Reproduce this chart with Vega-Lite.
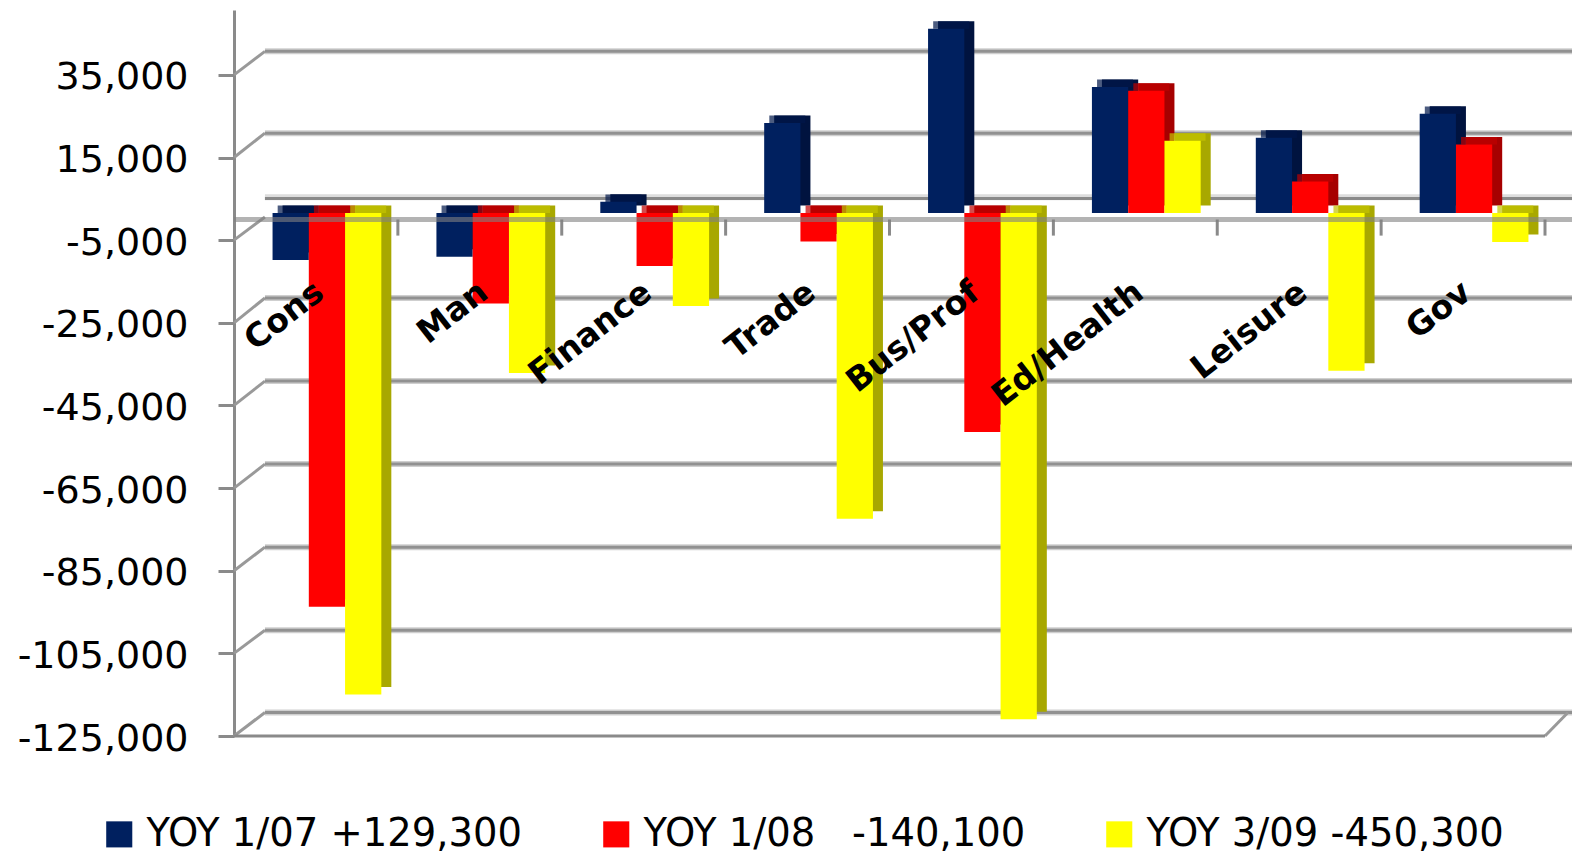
{"$schema":"https://vega.github.io/schema/vega-lite/v6.json","width":1311,"height":726,"autosize":"none","padding":{"left":234,"top":10,"right":27,"bottom":120},"background":"white","config":{"view":{"stroke":null}},"datasets":{"bars":[
{"cat":"Cons","s":"YOY 1/07 +129,300","v":-11400},{"cat":"Cons","s":"YOY 1/08\u00a0\u00a0 -140,100","v":-95300},{"cat":"Cons","s":"YOY 3/09 -450,300","v":-116500},
{"cat":"Man","s":"YOY 1/07 +129,300","v":-10600},{"cat":"Man","s":"YOY 1/08\u00a0\u00a0 -140,100","v":-21900},{"cat":"Man","s":"YOY 3/09 -450,300","v":-38700},
{"cat":"Finance","s":"YOY 1/07 +129,300","v":2700},{"cat":"Finance","s":"YOY 1/08\u00a0\u00a0 -140,100","v":-12800},{"cat":"Finance","s":"YOY 3/09 -450,300","v":-22500},
{"cat":"Trade","s":"YOY 1/07 +129,300","v":21800},{"cat":"Trade","s":"YOY 1/08\u00a0\u00a0 -140,100","v":-6900},{"cat":"Trade","s":"YOY 3/09 -450,300","v":-74000},
{"cat":"Bus/Prof","s":"YOY 1/07 +129,300","v":44600},{"cat":"Bus/Prof","s":"YOY 1/08\u00a0\u00a0 -140,100","v":-53000},{"cat":"Bus/Prof","s":"YOY 3/09 -450,300","v":-122500},
{"cat":"Ed/Health","s":"YOY 1/07 +129,300","v":30500},{"cat":"Ed/Health","s":"YOY 1/08\u00a0\u00a0 -140,100","v":29600},{"cat":"Ed/Health","s":"YOY 3/09 -450,300","v":17500},
{"cat":"Leisure","s":"YOY 1/07 +129,300","v":18200},{"cat":"Leisure","s":"YOY 1/08\u00a0\u00a0 -140,100","v":7600},{"cat":"Leisure","s":"YOY 3/09 -450,300","v":-38200},
{"cat":"Gov","s":"YOY 1/07 +129,300","v":24000},{"cat":"Gov","s":"YOY 1/08\u00a0\u00a0 -140,100","v":16600},{"cat":"Gov","s":"YOY 3/09 -450,300","v":-7000}],
"grid":[{"v":35000,"back":40700},{"v":15000,"back":20900},{"v":-25000,"back":-19000},{"v":-45000,"back":-39100},{"v":-65000,"back":-59200},{"v":-85000,"back":-79300},{"v":-105000,"back":-99400},{"v":-125000,"back":-119300}],
"seps":[{"f":0.125},{"f":0.25},{"f":0.375},{"f":0.5},{"f":0.625},{"f":0.75},{"f":0.875},{"f":1}]},
"resolve":{"scale":{"x":"independent","color":"independent","xOffset":"independent"}},
"layer":[
{"data":{"name":"grid"},"mark":{"type":"rule","color":"#cfcfcf","strokeWidth":6},"encoding":{"x":{"datum":0.0236,"type":"quantitative","scale":{"domain":[0,1],"range":[0,1311]},"axis":null},"x2":{"datum":1.0206},"y":{"field":"back","type":"quantitative","scale":{"domain":[-125000,50700],"nice":false,"zero":false},"axis":{"values":[35000,15000,-5000,-25000,-45000,-65000,-85000,-105000,-125000],"labelExpr":"(datum.value<0?'-':'')+format(abs(datum.value),',')","title":null,"grid":false,"domainColor":"#8a8a8a","domainWidth":3,"tickColor":"#8a8a8a","tickWidth":3,"tickSize":16,"labelPadding":30,"labelOffset":3,"labelFont":"DejaVu Sans","labelFontSize":38,"labelColor":"#000000"}}}},
{"data":{"name":"grid"},"mark":{"type":"rule","color":"#919191","strokeWidth":3},"encoding":{"x":{"datum":0.0236,"type":"quantitative","scale":{"domain":[0,1],"range":[0,1311]},"axis":null},"x2":{"datum":1.0206},"y":{"field":"back","type":"quantitative"}}},
{"data":{"name":"grid"},"mark":{"type":"rule","color":"#999999","strokeWidth":3},"encoding":{"x":{"datum":0,"type":"quantitative","scale":{"domain":[0,1],"range":[0,1311]},"axis":null},"x2":{"datum":0.0236},"y":{"field":"v","type":"quantitative"},"y2":{"field":"back"}}},
{"data":{"values":[{"v":-5000,"back":600}]},"mark":{"type":"rule","color":"#999999","strokeWidth":3},"encoding":{"x":{"datum":0,"type":"quantitative","scale":{"domain":[0,1],"range":[0,1311]},"axis":null},"x2":{"datum":0.0236},"y":{"field":"v","type":"quantitative"},"y2":{"field":"back"}}},
{"data":{"values":[{"v":5400}]},"mark":{"type":"rule","color":"#dddddd","strokeWidth":6},"encoding":{"x":{"datum":0.0236,"type":"quantitative","scale":{"domain":[0,1],"range":[0,1311]},"axis":null},"x2":{"datum":1.0206},"y":{"field":"v","type":"quantitative"}}},
{"data":{"values":[{"v":5100}]},"mark":{"type":"rule","color":"#8a8a8a","strokeWidth":3},"encoding":{"x":{"datum":0.0236,"type":"quantitative","scale":{"domain":[0,1],"range":[0,1311]},"axis":null},"x2":{"datum":1.0206},"y":{"field":"v","type":"quantitative"}}},
{"data":{"values":[{"v":-125000,"back":-119300}]},"mark":{"type":"rule","color":"#999999","strokeWidth":3},"encoding":{"x":{"datum":1,"type":"quantitative","scale":{"domain":[0,1],"range":[0,1311]},"axis":null},"x2":{"datum":1.0175},"y":{"field":"v","type":"quantitative"},"y2":{"field":"back"}}},
{"data":{"values":[{"v":-125000}]},"mark":{"type":"rule","color":"#8a8a8a","strokeWidth":3},"encoding":{"x":{"datum":0,"type":"quantitative","scale":{"domain":[0,1],"range":[0,1311]},"axis":null},"x2":{"datum":1},"y":{"field":"v","type":"quantitative"}}},
{"data":{"name":"seps"},"mark":{"type":"rule","color":"#8a8a8a","strokeWidth":3},"encoding":{"x":{"field":"f","type":"quantitative","scale":{"domain":[0,1],"range":[0,1311]},"axis":null},"y":{"datum":0,"type":"quantitative"},"y2":{"datum":-3900}}},
{"data":{"name":"bars"},"mark":{"type":"bar","yOffset":-14,"y2Offset":-14},"encoding":{"x":{"field":"cat","type":"nominal","sort":null,"scale":{"domain":["Cons","Man","Finance","Trade","Bus/Prof","Ed/Health","Leisure","Gov"],"paddingInner":0,"paddingOuter":0,"range":[21,1332]},"axis":null},"xOffset":{"field":"s","type":"nominal","sort":null,"scale":{"paddingInner":0,"paddingOuter":0.76}},"y":{"field":"v","type":"quantitative"},"y2":{"datum":0},"color":{"field":"s","type":"nominal","sort":null,"scale":{"range":["#00133f","#a60000","#a8a800"]},"legend":null}}},
{"data":{"name":"bars"},"transform":[{"filter":"datum.v>0"}],"mark":{"type":"tick","orient":"horizontal","size":36,"thickness":7.5,"yOffset":-10.2},"encoding":{"x":{"field":"cat","type":"nominal","sort":null,"scale":{"domain":["Cons","Man","Finance","Trade","Bus/Prof","Ed/Health","Leisure","Gov"],"paddingInner":0,"paddingOuter":0,"range":[16,1327]},"axis":null},"xOffset":{"field":"s","type":"nominal","sort":null,"scale":{"domain":["YOY 1/07 +129,300","YOY 1/08\u00a0\u00a0 -140,100","YOY 3/09 -450,300"],"paddingInner":0,"paddingOuter":0.76}},"y":{"field":"v","type":"quantitative"},"color":{"field":"s","type":"nominal","sort":null,"scale":{"domain":["YOY 1/07 +129,300","YOY 1/08\u00a0\u00a0 -140,100","YOY 3/09 -450,300"],"range":["#00174a","#c00000","#c4c400"]},"legend":null}}},
{"data":{"name":"bars"},"transform":[{"filter":"datum.v<0"}],"mark":{"type":"tick","orient":"horizontal","size":36,"thickness":7.5,"yOffset":-10.2},"encoding":{"x":{"field":"cat","type":"nominal","sort":null,"scale":{"domain":["Cons","Man","Finance","Trade","Bus/Prof","Ed/Health","Leisure","Gov"],"paddingInner":0,"paddingOuter":0,"range":[16,1327]},"axis":null},"xOffset":{"field":"s","type":"nominal","sort":null,"scale":{"domain":["YOY 1/07 +129,300","YOY 1/08\u00a0\u00a0 -140,100","YOY 3/09 -450,300"],"paddingInner":0,"paddingOuter":0.76}},"y":{"datum":0,"type":"quantitative"},"color":{"field":"s","type":"nominal","sort":null,"scale":{"domain":["YOY 1/07 +129,300","YOY 1/08\u00a0\u00a0 -140,100","YOY 3/09 -450,300"],"range":["#00174a","#c00000","#c4c400"]},"legend":null}}},
{"data":{"name":"bars"},"mark":{"type":"bar","yOffset":-6.5,"y2Offset":-6.5},"encoding":{"x":{"field":"cat","type":"nominal","sort":null,"scale":{"domain":["Cons","Man","Finance","Trade","Bus/Prof","Ed/Health","Leisure","Gov"],"paddingInner":0,"paddingOuter":0,"range":[11,1322]},"axis":{"orient":"bottom","offset":-448,"title":null,"domain":false,"ticks":false,"grid":false,"labelAngle":-38,"labelAlign":"right","labelBaseline":"middle","labelOffset":-7,"labelPadding":0,"labelFont":"DejaVu Sans","labelFontWeight":"bold","labelFontSize":33,"labelColor":"#000000","labelOverlap":false,"labelLimit":500,"zindex":1}},"xOffset":{"field":"s","type":"nominal","sort":null,"scale":{"paddingInner":0,"paddingOuter":0.76}},"y":{"field":"v","type":"quantitative"},"y2":{"datum":0},"color":{"field":"s","type":"nominal","sort":null,"title":null,"scale":{"range":["#00205f","#ff0000","#ffff00"]},"legend":{"orient":"none","legendX":-134,"legendY":805,"direction":"horizontal","columns":3,"columnPadding":74,"symbolType":"square","symbolSize":680,"symbolStrokeWidth":0,"labelFont":"DejaVu Sans","labelFontSize":38.5,"labelColor":"#000000","labelOffset":8,"labelLimit":600,"title":null}}}},
{"data":{"values":[{"v":0}]},"mark":{"type":"rule","color":"#808080","strokeWidth":5,"opacity":0.6},"encoding":{"x":{"datum":0,"type":"quantitative","scale":{"domain":[0,1],"range":[0,1311]},"axis":null},"x2":{"datum":1.0206},"y":{"field":"v","type":"quantitative"}}}
]}
